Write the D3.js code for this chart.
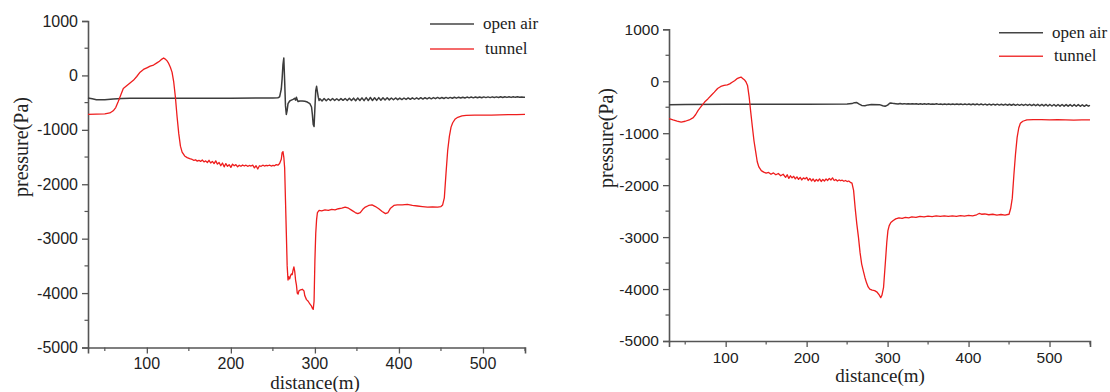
<!DOCTYPE html>
<html>
<head>
<meta charset="utf-8">
<script src="https://cdn.jsdelivr.net/npm/d3@7"></script>
<style>
  body { margin: 0; background: #fff; }
  svg { display: block; }
  .tick-label { font-family: "Liberation Sans", Arial, sans-serif; fill: #222; }
  .axis-title, .legend-text { font-family: "Liberation Serif", "Times New Roman", serif; fill: #222; }
</style>
</head>
<body>
<svg id="chart" width="1110" height="392"></svg>
<script>
// ---- data ----
const xTicks = [100, 200, 300, 400, 500];
const xMinorTicks = [50, 150, 250, 350, 450, 550];
const yTicks = [1000, 0, -1000, -2000, -3000, -4000, -5000];
const yMinorTicks = [500, -500, -1500, -2500, -3500, -4500];
const seriesNames = ['open air', 'tunnel'];

// left figure: open air
const leftOpenAir = [
  [30,-415],[35,-430],[40,-447],[50,-445],[60,-432],[70,-425],[80,-420],[100,-418],[150,-418],[200,-418],
  [250,-416],[256,-410],[258,-395],[260,-250],[261,-60],[262,200],[263,320],[264,-100],[265,-560],[266,-716],
  [267,-640],[268,-520],[270,-470],[272,-455],[274,-440],[276,-420],[277,-455],[278,-400],[279,-450],[280,-480],
  [282,-470],[285,-470],[288,-475],[291,-490],[294,-520],[296,-580],[297,-720],[298,-900],[299,-940],[300,-600],
  [301,-280],[302,-200],[303,-300],[304,-400],[305,-460],[306,-430],
  [308.5,-470],[311,-425],[313.5,-465],[316,-428],[318.5,-462],[321,-425],[323.5,-460],[326,-428],[328.5,-462],
  [331,-426],[333.5,-458],[336,-424],[338.5,-460],[341,-420],[343.5,-462],[346,-418],[348.5,-465],[351,-415],
  [353.5,-462],[356,-412],[358.5,-464],[361,-408],[363.5,-462],[366,-405],[368.5,-460],[371,-410],[373.5,-458],
  [376,-408],[378.5,-455],[381,-410],[383.5,-452],[386,-412],[388.5,-450],[391,-415],[393.5,-448],[396,-414],
  [398.5,-445],[401,-416],[403.5,-444],[406,-415],[408.5,-442],[411,-414],[413.5,-440],[416,-412],[418.5,-438],
  [421,-412],[423.5,-436],[426,-410],[428.5,-434],[431,-410],[433.5,-432],[436,-408],[438.5,-430],[441,-408],
  [443.5,-428],[446,-405],[448.5,-426],[451,-406],[453.5,-424],[456,-404],[458.5,-422],[461,-404],[463.5,-420],
  [466,-402],[468.5,-418],[471,-400],[473.5,-416],[476,-400],[478.5,-414],[481,-398],[483.5,-412],[486,-398],
  [488.5,-412],[491,-396],[493.5,-410],[496,-396],[498.5,-410],[501,-395],[503.5,-408],[506,-395],[508.5,-408],
  [511,-394],[513.5,-406],[516,-394],[518.5,-406],[521,-392],[523.5,-405],[526,-393],[528.5,-404],[531,-392],
  [533.5,-404],[536,-392],[538.5,-403],[541,-393],[543.5,-402],[546,-395],[548.5,-402],[550,-400]
];

// left figure: tunnel
const leftTunnel = [
  [30,-716],[40,-712],[50,-706],[56,-690],[60,-650],[63,-590],[66,-480],[69,-360],[72,-240],[76,-190],
  [80,-140],[84,-90],[88,-20],[92,60],[96,110],[100,140],[104,170],[108,190],[112,230],[115,260],
  [118,300],[120,320],[122,300],[124,270],[126,220],[128,150],[130,60],[132,-120],[134,-400],[136,-760],
  [138,-1070],[140,-1300],[142,-1410],[145,-1480],[148,-1510],[151,-1530],[154,-1545],[156,-1560],[158,-1550],
  [160,-1575],[162,-1560],[164,-1580],[166,-1555],[168,-1590],[170,-1570],[172,-1600],[174,-1560],[176,-1610],
  [178,-1580],[180,-1620],[182,-1570],[184,-1630],[186,-1600],[188,-1660],[190,-1610],[192,-1680],[194,-1620],
  [196,-1670],[198,-1640],[200,-1690],[202,-1630],[204,-1660],[206,-1640],[208,-1680],[210,-1650],[212,-1670],
  [214,-1645],[216,-1665],[218,-1650],[220,-1670],[222,-1655],[224,-1665],[226,-1650],[228,-1700],[230,-1660],
  [232,-1720],[234,-1660],[236,-1670],[238,-1650],[240,-1665],[242,-1655],[244,-1660],[246,-1650],[248,-1665],
  [250,-1655],[252,-1660],[254,-1640],[256,-1650],[258,-1620],[260,-1540],[261,-1420],[262,-1400],[263,-1500],
  [264,-1700],[265,-2300],[266,-2900],[267,-3500],[268,-3760],[269,-3700],[270,-3740],[271,-3680],[272,-3650],
  [273,-3660],[274,-3580],[275,-3520],[276,-3600],[277,-3760],[278,-3850],[279,-4000],[280,-4020],[281,-3960],
  [283,-3940],[285,-3930],[287,-3960],[288,-4050],[290,-4120],[292,-4150],[294,-4200],[296,-4240],[297,-4280],
  [298,-4300],[299,-4150],[300,-3400],[301,-2900],[302,-2650],[303,-2520],[305,-2480],[308,-2490],[312,-2470],
  [316,-2480],[320,-2460],[324,-2470],[328,-2450],[332,-2440],[336,-2420],[340,-2440],[344,-2480],[348,-2520],
  [351,-2540],[354,-2520],[357,-2460],[360,-2420],[364,-2390],[368,-2380],[372,-2410],[376,-2450],[380,-2500],
  [384,-2540],[387,-2520],[390,-2440],[394,-2390],[398,-2380],[404,-2380],[410,-2370],[416,-2390],[422,-2400],
  [428,-2410],[434,-2420],[440,-2415],[446,-2420],[450,-2410],[452,-2380],[454,-2250],[456,-1800],[458,-1380],
  [460,-1120],[462,-950],[464,-870],[467,-800],[470,-770],[475,-745],[480,-734],[490,-730],[500,-728],
  [510,-728],[520,-725],[530,-722],[540,-720],[550,-716]
];

// right figure: open air
const rightOpenAir = [
  [30,-450],[50,-448],[100,-445],[150,-443],[200,-442],[250,-440],[256,-430],[259,-412],[262,-410],[265,-440],
  [268,-465],[272,-470],[276,-455],[280,-448],[290,-450],[294,-470],[297,-482],[300,-460],[303,-418],[306,-425],
  [310,-432],[313,-438],[315.5,-430],[318,-438],[320.5,-431],[323,-439],[325.5,-432],[328,-440],[330.5,-432],
  [333,-440],[335.5,-433],[338,-441],[340.5,-434],[343,-442],[345.5,-434],[348,-442],[350.5,-435],[353,-443],
  [355.5,-436],[358,-444],[360.5,-435],[363,-445],[365.5,-436],[368,-446],[370.5,-437],[373,-447],[375.5,-437],
  [378,-447],[380.5,-437],[383,-448],[385.5,-438],[388,-449],[390.5,-438],[393,-450],[395.5,-438],[398,-450],
  [400.5,-437],[403,-452],[405.5,-437],[408,-453],[410.5,-438],[413,-454],[415.5,-438],[418,-455],[420.5,-440],
  [423,-456],[425.5,-440],[428,-457],[430.5,-441],[433,-458],[435.5,-441],[438,-459],[440.5,-442],[443,-460],
  [445.5,-442],[448,-461],[450.5,-443],[453,-462],[455.5,-443],[458,-463],[460.5,-444],[463,-464],[465.5,-444],
  [468,-465],[470.5,-445],[473,-466],[475.5,-445],[478,-468],[480.5,-444],[483,-470],[485.5,-445],[488,-472],
  [490.5,-446],[493,-474],[495.5,-446],[498,-476],[500.5,-447],[503,-477],[505.5,-447],[508,-478],[510.5,-448],
  [513,-479],[515.5,-448],[518,-480],[520.5,-449],[523,-480],[525.5,-449],[528,-481],[530.5,-450],[533,-481],
  [535.5,-450],[538,-482],[540.5,-452],[543,-482],[545.5,-455],[548,-480],[550,-465]
];

// right figure: tunnel
const rightTunnel = [
  [30,-721],[35,-745],[40,-766],[45,-785],[50,-770],[55,-745],[60,-700],[63,-640],[66,-560],[70,-480],
  [74,-400],[78,-340],[82,-275],[86,-210],[90,-140],[94,-100],[98,-80],[102,-70],[105,-50],[108,-20],
  [111,10],[114,50],[117,70],[119,80],[121,55],[123,30],[125,-10],[127,-80],[129,-300],[131,-600],
  [133,-880],[135,-1150],[137,-1350],[139,-1550],[141,-1650],[144,-1720],[147,-1750],[150,-1770],[153,-1755],
  [156,-1790],[159,-1765],[162,-1800],[165,-1775],[168,-1820],[171,-1790],[174,-1850],[176,-1800],[178,-1870],
  [180,-1820],[182,-1860],[184,-1830],[186,-1880],[188,-1840],[190,-1890],[192,-1850],[194,-1900],[196,-1860],
  [198,-1880],[200,-1850],[202,-1910],[204,-1870],[206,-1920],[208,-1880],[210,-1930],[212,-1890],[214,-1920],
  [216,-1880],[218,-1930],[220,-1890],[222,-1920],[224,-1880],[226,-1910],[228,-1870],[230,-1900],[232,-1860],
  [234,-1910],[236,-1890],[238,-1920],[240,-1900],[242,-1915],[244,-1905],[246,-1925],[248,-1910],[250,-1930],
  [252,-1920],[254,-1945],[256,-1960],[258,-2100],[260,-2450],[262,-2750],[264,-3000],[266,-3300],[268,-3520],
  [270,-3650],[272,-3777],[274,-3880],[276,-3960],[278,-4000],[281,-4020],[284,-4030],[287,-4060],[289.5,-4110],
  [291.5,-4165],[293,-4120],[295,-3970],[297.4,-3456],[299,-3100],[300.4,-2876],[302,-2780],[304,-2720],
  [307,-2680],[310,-2650],[314,-2630],[318,-2640],[322,-2620],[326,-2630],[330,-2610],[335,-2620],[340,-2600],
  [345,-2610],[350,-2595],[355,-2605],[360,-2590],[365,-2600],[370,-2590],[375,-2600],[380,-2590],[385,-2600],
  [390,-2585],[395,-2595],[400,-2580],[405,-2590],[410,-2570],[413,-2545],[416,-2560],[420,-2555],[425,-2570],
  [430,-2560],[435,-2575],[440,-2565],[445,-2575],[450,-2560],[452,-2450],[454,-2250],[456,-1800],[458,-1400],
  [460,-1080],[462,-900],[464,-810],[467,-770],[472,-745],[480,-740],[490,-740],[500,-742],[510,-740],
  [520,-745],[530,-748],[540,-745],[550,-742]
];

const colors = ['#3c3c3c', '#ee1d1d'];

const svg = d3.select('#chart');

const drawPanel = (selection, props) => {
  const {
    xRange, yRange, series, tickSize, titleX, titleY, yLabelX, yLabelY,
    xTickBaseline, legendX, legendY, legendGap
  } = props;

  const xScale = d3.scaleLinear().domain([30, 550]).range(xRange);
  const yScale = d3.scaleLinear().domain([-5000, 1000]).range(yRange);

  const g = selection.append('g');
  const axisColor = '#555';

  // bottom axis, labels drawn by hand so they sit where the picture has them
  const xAxisG = g.append('g')
    .attr('transform', `translate(0,${yRange[0]})`)
    .call(d3.axisBottom(xScale).tickValues(xTicks).tickSize(6).tickFormat(''));
  xAxisG.select('.domain').attr('stroke', axisColor).attr('stroke-width', 1.6);
  xAxisG.selectAll('.tick line').attr('stroke', axisColor).attr('stroke-width', 1.3);
  xAxisG.selectAll('.minor').data(xMinorTicks).enter().append('line')
    .attr('class', 'minor')
    .attr('x1', d => xScale(d)).attr('x2', d => xScale(d))
    .attr('y1', 0).attr('y2', 3.5)
    .attr('stroke', axisColor).attr('stroke-width', 1.2);
  g.selectAll('.xlab').data(xTicks).enter().append('text')
    .attr('class', 'tick-label')
    .attr('x', d => xScale(d))
    .attr('y', xTickBaseline)
    .attr('text-anchor', 'middle')
    .style('font-size', tickSize + 'px')
    .text(d => d);

  // left axis
  const yAxisG = g.append('g')
    .attr('transform', `translate(${xRange[0]},0)`)
    .call(d3.axisLeft(yScale).tickValues(yTicks).tickSize(6).tickPadding(4)
      .tickFormat(d => String(d)));   // plain hyphen, no thousands comma
  yAxisG.select('.domain').attr('stroke', axisColor).attr('stroke-width', 1.6);
  yAxisG.selectAll('.tick line').attr('stroke', axisColor).attr('stroke-width', 1.3);
  yAxisG.selectAll('.tick text')
    .attr('class', 'tick-label')
    .attr('fill', '#222')
    .style('font-size', tickSize + 'px')
    .style('font-family', '"Liberation Sans", Arial, sans-serif');
  yAxisG.selectAll('.minor').data(yMinorTicks).enter().append('line')
    .attr('class', 'minor')
    .attr('y1', d => yScale(d)).attr('y2', d => yScale(d))
    .attr('x1', 0).attr('x2', -3.5)
    .attr('stroke', axisColor).attr('stroke-width', 1.2);

  // titles
  g.append('text')
    .attr('class', 'axis-title')
    .attr('x', titleX).attr('y', titleY)
    .attr('text-anchor', 'middle')
    .style('font-size', '19px')
    .text('distance(m)');
  g.append('text')
    .attr('class', 'axis-title')
    .attr('transform', `translate(${yLabelX},${yLabelY}) rotate(-90)`)
    .attr('text-anchor', 'middle')
    .attr('dy', '0.32em')
    .style('font-size', '20px')
    .text('pressure(Pa)');

  // lines
  const line = d3.line()
    .x(d => xScale(d[0]))
    .y(d => yScale(d[1]));

  g.selectAll('.series').data(series).enter().append('path')
    .attr('class', 'series')
    .attr('d', d => line(d))
    .attr('fill', 'none')
    .attr('stroke', (d, i) => colors[i])
    .attr('stroke-width', (d, i) => i === 0 ? 1.5 : 1.3)
    .attr('stroke-linejoin', 'round');

  // legend
  const lg = g.append('g').attr('transform', `translate(${legendX},${legendY})`);
  const items = lg.selectAll('g').data(seriesNames).enter().append('g')
    .attr('transform', (d, i) => `translate(0,${i * legendGap})`);
  items.append('line')
    .attr('x1', 0).attr('x2', 44)
    .attr('stroke', (d, i) => i === 0 ? '#444' : '#f03a3a')
    .attr('stroke-width', 1.4);
  items.append('text')
    .attr('class', 'legend-text')
    .attr('x', (d, i) => i === 0 ? 53 : 55)
    .attr('y', 5)
    .style('font-size', '17px')
    .text(d => d);
};

drawPanel(svg, {
  xRange: [88, 525],
  yRange: [347.5, 21],
  series: [leftOpenAir, leftTunnel],
  tickSize: 16,
  titleX: 315, titleY: 389,
  yLabelX: 22, yLabelY: 147,
  xTickBaseline: 369,
  legendX: 430, legendY: 24, legendGap: 25
});

drawPanel(svg, {
  xRange: [669, 1090],
  yRange: [341, 29.3],
  series: [rightOpenAir, rightTunnel],
  tickSize: 15.5,
  titleX: 880, titleY: 382,
  yLabelX: 607, yLabelY: 138,
  xTickBaseline: 363,
  legendX: 999, legendY: 32.7, legendGap: 23.5
});
</script>
</body>
</html>
